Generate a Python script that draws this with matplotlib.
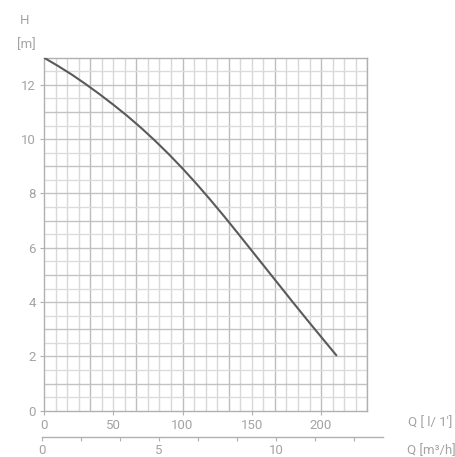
import matplotlib
matplotlib.use("Agg")
import matplotlib.pyplot as plt
import numpy as np
from matplotlib.ticker import FixedLocator

# Data (Q in l/min, H in m)
flow_lpm = [0, 10, 20, 30, 40, 50, 60, 70, 80, 90, 100, 110, 120, 130, 140, 150, 160, 170, 180, 190, 200, 211]
head_m = [13.0, 12.70, 12.38, 12.03, 11.66, 11.27, 10.86, 10.42, 9.95, 9.45, 8.92, 8.36, 7.77, 7.16,
          6.53, 5.89, 5.25, 4.61, 3.97, 3.34, 2.72, 2.04]
x_ticks = [0, 50, 100, 150, 200]
y_ticks = [0, 2, 4, 6, 8, 10, 12]
m3h_labels = {0: "0", 5: "5", 10: "10"}

plt.rcParams['font.family'] = ['Roboto', 'DejaVu Sans']
TXT = '#a3a3a3'
FS = 9.5

fig = plt.figure(figsize=(4.56, 4.57), dpi=100)
ax = fig.add_axes([44/456, 1-410.7/457, 323.3/456, 353/457])
xmax = 14 * 1000 / 60.0
ax.set_xlim(0, xmax)
ax.set_ylim(0, 13)

step = 0.5 * 1000 / 60.0
for i in range(1, 29):
    xv = i * step
    col = '#bdbdbd' if i % 4 == 0 else '#d8d8d8'
    ax.axvline(xv, color=col, lw=1.0, zorder=1)
for j in range(1, 26):
    yv = j * 0.5
    col = '#c2c2c2' if j % 2 == 0 else '#dcdcdc'
    ax.axhline(yv, color=col, lw=1.0, zorder=1)

ax.plot(flow_lpm, head_m, color='#5a5a5a', lw=1.5, zorder=3, solid_capstyle='round')

ax.set_xticks(x_ticks)
ax.set_yticks(y_ticks)
ax.tick_params(which='minor', length=0)
ax.tick_params(which='major', length=3, width=0.8, color='#b0b0b0', labelcolor=TXT, labelsize=FS, pad=3)
for s in ax.spines.values():
    s.set_color('#b0b0b0')
    s.set_linewidth(1.0)

fig.text(25/456, 1-20/457, 'H', color=TXT, fontsize=FS, ha='center', va='center')
fig.text(26/456, 1-45/457, '[m]', color=TXT, fontsize=FS, ha='center', va='center')
fig.text(430/456, 1-423/457, "Q [ l/ 1']", color=TXT, fontsize=FS, ha='center', va='center')
fig.text(431/456, 1-451/457, "Q [m³/h]", color=TXT, fontsize=FS, ha='center', va='center')

# secondary m3/h axis
ax2 = fig.add_axes([41.7/456, 1-437.3/457, 341/456, 0.001])
ppu = (276 - 42.3) / 10.0
ax2.set_xlim(-(42.3-41.7)/ppu, (382.7-42.3)/ppu)
ax2.set_ylim(0, 1)
for k in ['top', 'left', 'right']:
    ax2.spines[k].set_visible(False)
ax2.spines['bottom'].set_color('#b0b0b0')
ax2.spines['bottom'].set_linewidth(1.0)
ax2.set_yticks([])
ticks2 = list(np.arange(9) * 5 / 3.0)
ax2.xaxis.set_major_locator(FixedLocator(ticks2))
ax2.set_xticklabels([m3h_labels.get(int(round(t)), "") if abs(t - round(t)) < 1e-6 else "" for t in ticks2])
ax2.tick_params(length=3, width=0.8, color='#b0b0b0', labelcolor=TXT, labelsize=FS, pad=1.5)
ax2.patch.set_visible(False)

fig.savefig('out.png', dpi=100)
